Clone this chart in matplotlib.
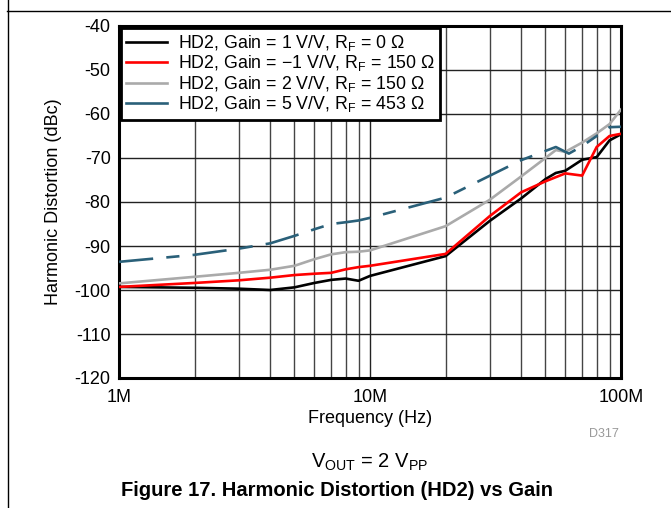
import matplotlib
matplotlib.use("Agg")
import matplotlib.pyplot as plt
from matplotlib.lines import Line2D
from matplotlib.ticker import NullFormatter, LogLocator
import numpy as np

plt.rcParams['font.family'] = ['Liberation Sans', 'DejaVu Sans']
plt.rcParams['mathtext.fontset'] = 'custom'
plt.rcParams['mathtext.rm'] = 'Liberation Sans'
plt.rcParams['mathtext.it'] = 'Liberation Sans:italic'
plt.rcParams['mathtext.bf'] = 'Liberation Sans:bold'

# ---- data (frequency in MHz, distortion in dBc) ----
f_black = [1, 2, 3, 4, 5, 6, 7, 8, 9, 10, 20, 30, 40, 50, 55, 60, 70, 80, 90, 100]
hd2_black = [-99.3, -99.5, -99.7, -100.0, -99.4, -98.4, -97.7, -97.4, -97.9, -96.8,
             -92.3, -84.3, -79.2, -74.8, -73.4, -72.9, -70.4, -69.8, -66.0, -64.6]

f_red = [1, 2, 3, 4, 5, 6, 7, 8, 9, 10, 20, 30, 40, 50, 60, 70, 80, 90, 100]
hd2_red = [-99.3, -98.4, -97.8, -97.2, -96.6, -96.3, -96.1, -95.3, -94.8, -94.5,
           -91.8, -83.2, -77.8, -75.3, -73.5, -74.0, -67.5, -65.0, -64.5]

f_gray = [1, 2, 3, 4, 5, 6, 7, 8, 9, 10, 20, 30, 40, 55, 60, 70, 80, 90, 100]
hd2_gray = [-98.5, -97.0, -96.1, -95.4, -94.5, -93.0, -91.9, -91.4, -91.3, -91.0,
            -85.5, -79.5, -74.2, -68.2, -68.6, -66.5, -64.4, -62.3, -59.0]

f_blue = [1, 2, 3, 4, 5, 6, 7, 8, 9, 10, 20, 40, 55, 62, 70, 80, 90, 100]
hd2_blue = [-93.6, -92.0, -90.6, -89.4, -87.7, -86.2, -85.0, -84.6, -84.2, -83.6,
            -79.0, -70.5, -67.5, -69.0, -67.3, -65.0, -63.0, -62.9]

labels = [
    r"HD2, Gain = 1 V/V, R$_\mathrm{F}$ = 0 Ω",
    r"HD2, Gain = −1 V/V, R$_\mathrm{F}$ = 150 Ω",
    r"HD2, Gain = 2 V/V, R$_\mathrm{F}$ = 150 Ω",
    r"HD2, Gain = 5 V/V, R$_\mathrm{F}$ = 453 Ω",
]
x_ticks = [1e6, 1e7, 1e8]
x_ticklabels = ["1M", "10M", "100M"]
y_ticks = [-40, -50, -60, -70, -80, -90, -100, -110, -120]

fig = plt.figure(figsize=(6.71, 5.08), dpi=100)
ax = fig.add_axes([119/671, 1-378/508, (621-119)/671, (378-26)/508])

hz = lambda a: np.array(a) * 1e6
lw = 1.9
ax.plot(hz(f_black), hd2_black, color='black', lw=lw, label=labels[0], zorder=5)
ax.plot(hz(f_red), hd2_red, color='#ff0000', lw=lw, label=labels[1], zorder=5)
ax.plot(hz(f_gray), hd2_gray, color='#aaaaaa', lw=lw, label=labels[2], zorder=4)
ax.plot(hz(f_blue), hd2_blue, color='#2a6079', lw=lw, label=labels[3], zorder=4,
        dashes=(13, 5, 5, 5))

ax.set_xscale('log')
ax.set_xlim(1e6, 1e8)
ax.set_ylim(-120, -40)
ax.set_xticks(x_ticks)
ax.set_xticklabels(x_ticklabels)
ax.xaxis.set_minor_locator(LogLocator(base=10, subs=np.arange(2, 10)))
ax.xaxis.set_minor_formatter(NullFormatter())
ax.set_yticks(y_ticks)
ax.set_yticklabels([str(v) for v in y_ticks])
ax.tick_params(axis='both', which='both', length=0, labelsize=13)
ax.tick_params(axis='y', pad=6)
ax.tick_params(axis='x', pad=8)
ax.grid(True, which='major', color='#222222', lw=1.0)
ax.grid(True, which='minor', axis='x', color='#444444', lw=1.0)
ax.set_axisbelow(True)
for s in ax.spines.values():
    s.set_linewidth(2.2)
    s.set_color('black')

ax.set_xlabel("Frequency (Hz)", fontsize=13, labelpad=3)
ax.set_ylabel("Harmonic Distortion (dBc)", fontsize=13, labelpad=9)

leg = ax.legend(loc='upper left', bbox_to_anchor=(0.0, 1.0), borderaxespad=0.1,
                fontsize=12.8, handlelength=2.3, handletextpad=0.6,
                labelspacing=0.02, fancybox=False, framealpha=1,
                edgecolor='black', borderpad=0.3)
leg.get_frame().set_linewidth(2.0)
leg.set_zorder(10)
for h in leg.get_lines():
    h.set_linestyle('-')

fig.text(604/671, 1-434/508, "D317", fontsize=9, color='#999999', ha='center', va='center')
fig.text(370/671, 1-462/508, r"V$_\mathrm{OUT}$ = 2 V$_\mathrm{PP}$", fontsize=14.5,
         ha='center', va='center')
fig.text(337/671, 1-490/508, "Figure 17. Harmonic Distortion (HD2) vs Gain",
         fontsize=14.5, fontweight='bold', ha='center', va='center')
# cut-off caption from previous figure at the very top (only descenders visible)
fig.text(95/671, 1+3.5/508, "Figure 16. Harmonic Distortion (HD2) vs Frequency",
         fontsize=14.5, fontweight='bold', ha='left', va='baseline', color='black')

fig.add_artist(Line2D([7.5/671, 7.5/671], [0, 1], transform=fig.transFigure,
                      color='black', lw=1.0))
fig.add_artist(Line2D([7/671, 1], [1-10.5/508, 1-10.5/508], transform=fig.transFigure,
                      color='black', lw=1.0))

fig.savefig("out.png", dpi=100)
